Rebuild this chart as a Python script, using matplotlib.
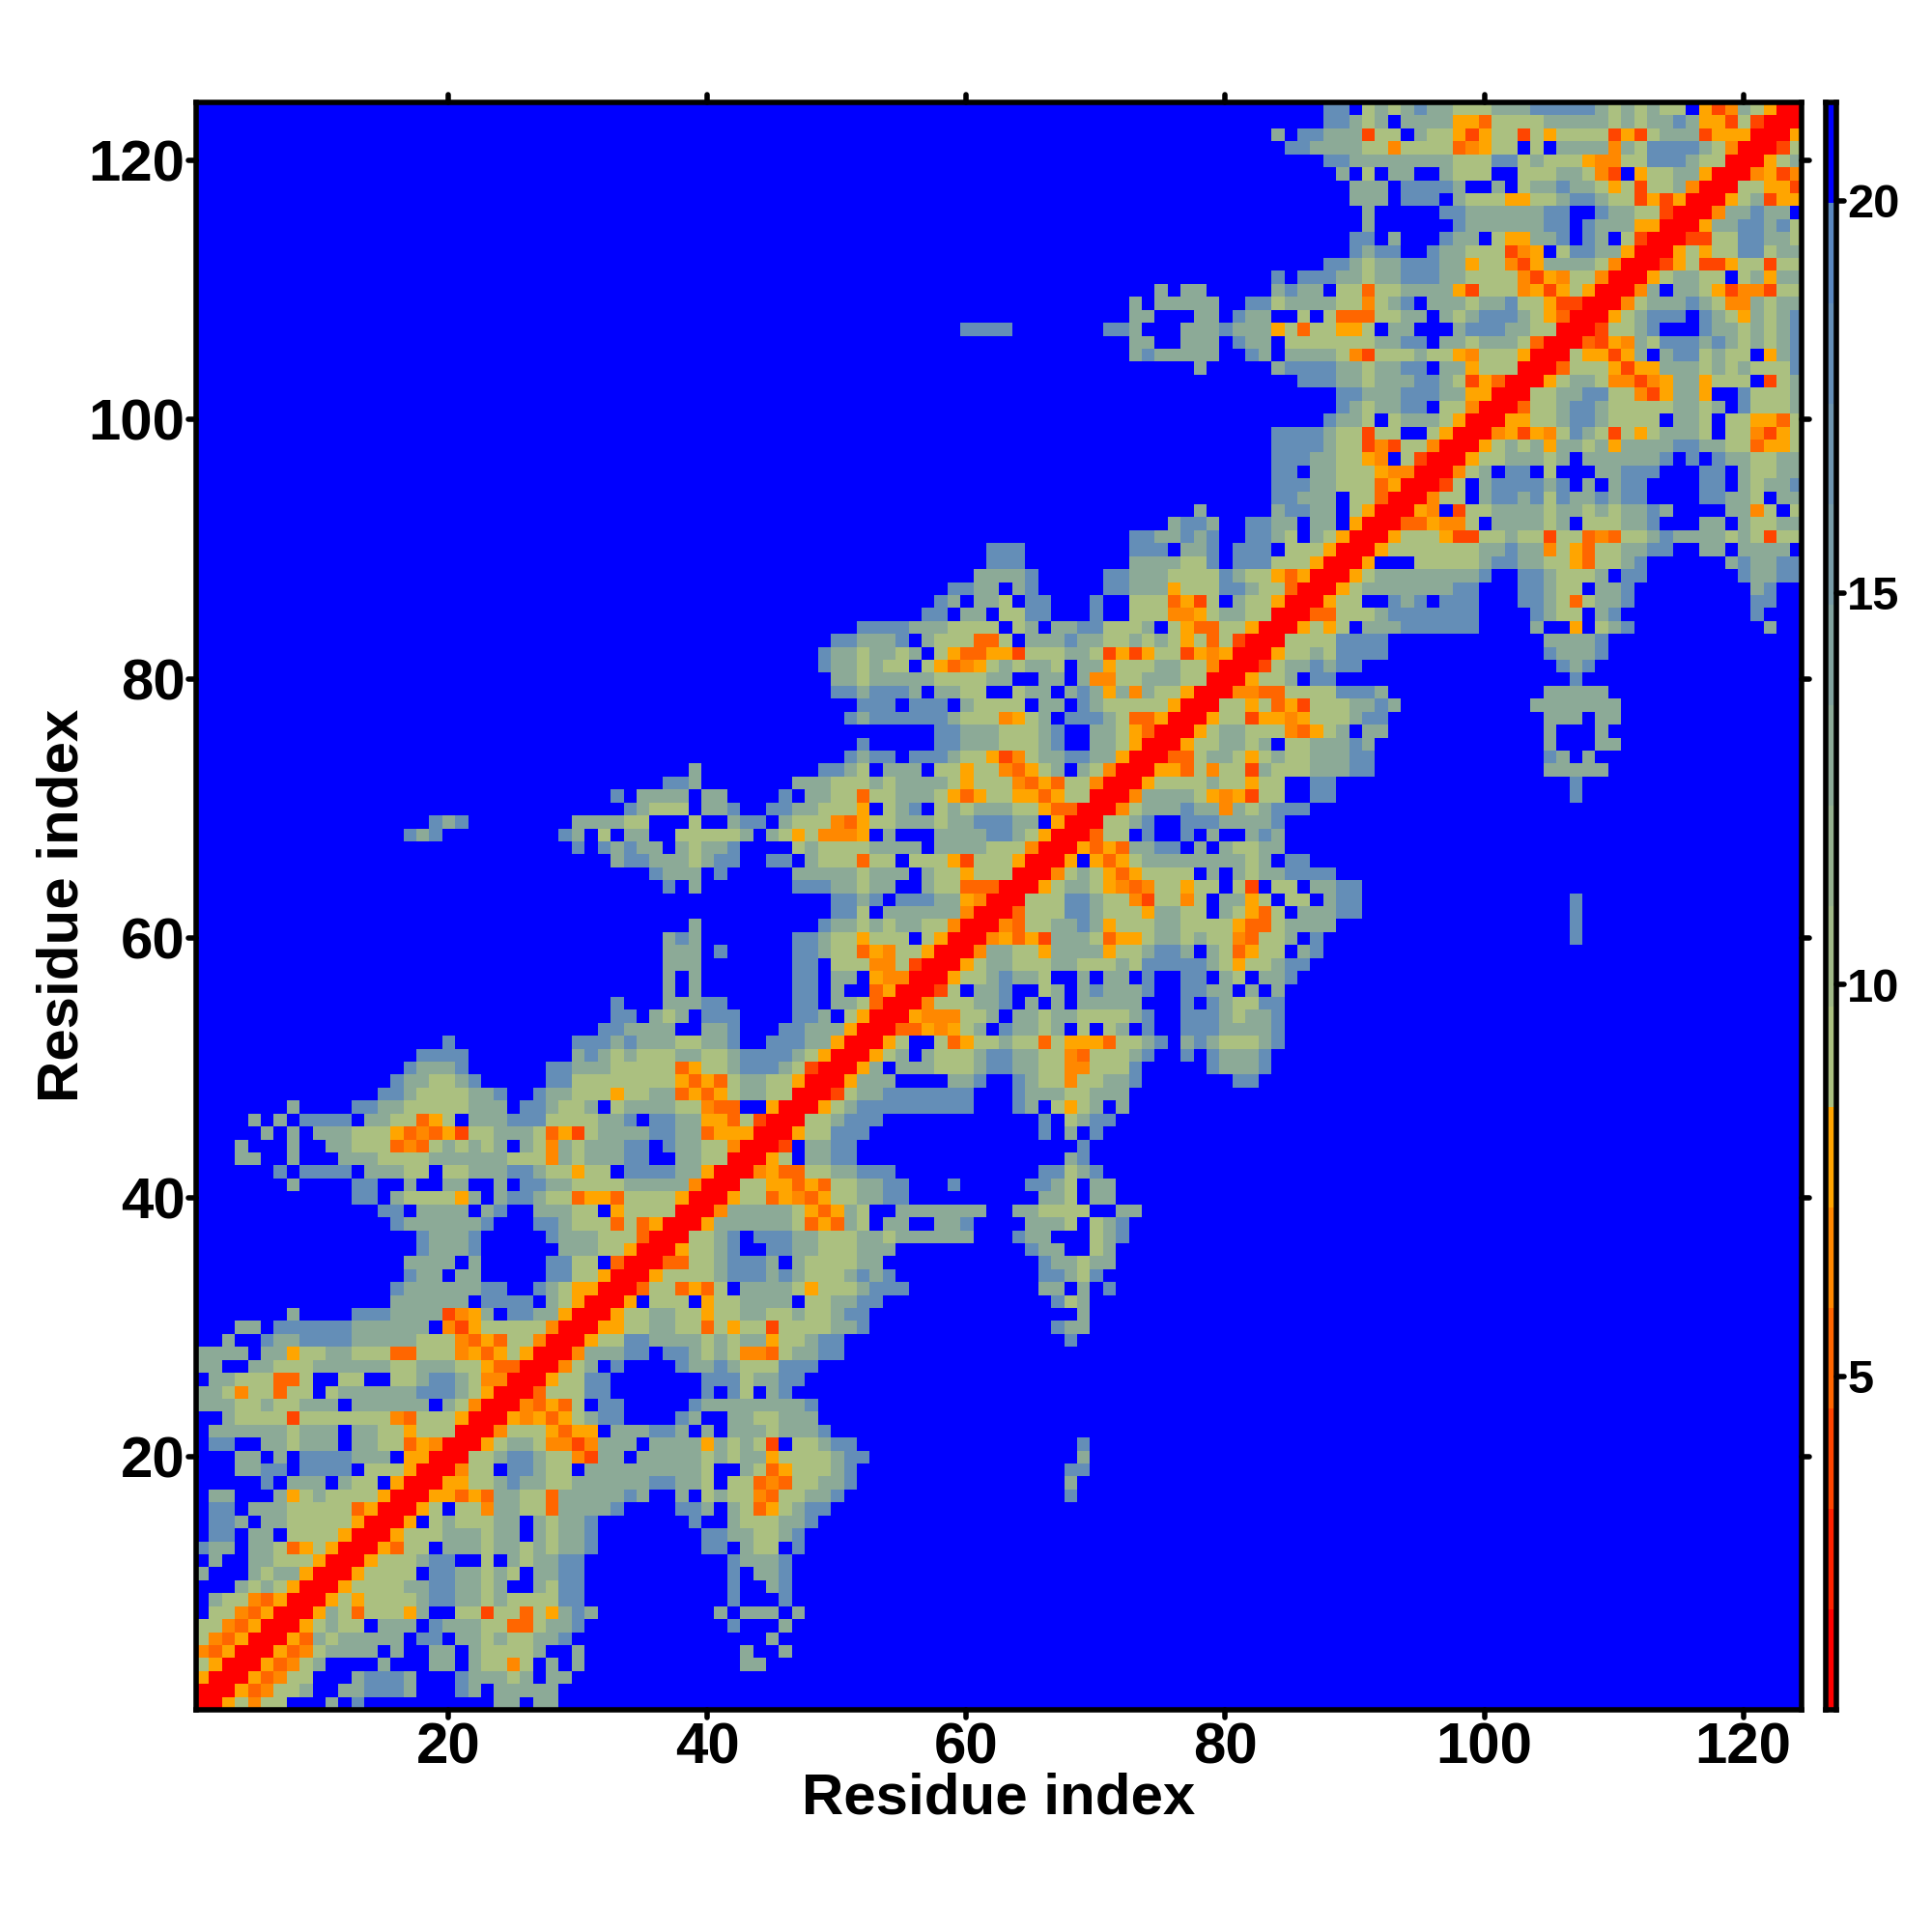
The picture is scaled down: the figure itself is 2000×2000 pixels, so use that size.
import re
import numpy as np
import matplotlib
matplotlib.use('Agg')
import matplotlib.pyplot as plt
from matplotlib.colors import ListedColormap, BoundaryNorm, to_rgb
from matplotlib.markers import MarkerStyle, TICKLEFT, TICKRIGHT, TICKUP, TICKDOWN

plt.rcParams['font.family'] = ['Liberation Sans', 'DejaVu Sans']
plt.rcParams['font.weight'] = 'bold'

# distance map: row y holds residues x = 1..y,
# the matrix is symmetric. "12." means twelve cells of "."
MAP_ROWS = [
    "R", "2R", "y2R", "gy2R", "doy2R", "gdoy2R", "2gdoy2R", ".2gdoy2R",
    ".m2gdoy2R", "3.mgmgy2R", "m3.mg2my2R", ".m2.2m3gy2R", "b2m.2mgoygy2R",
    ".2b.2m.4gy2R", ".2bm.2m5gy2R", ".2b.3m5goy2R", ".2m3.mygm4gy2R",
    "5.b.3m.m2g.y2R", "3.2m2b.4b.3gy2R", "3.2m.m.4b3m.2y2R", ".2b2.2mg3m.2m2goyd2R",
    ".6mg3m.2m2gy3g2R", "2.m4gf7gdo3gy2R", "3m2gm2g3m.6m.mgd2R", "2mgd2go2g.g6m3bmgy2R",
    ".2m3g2og2.2g2.2gm2bmg2d2R", "2m2.2m3g6m2g3m2gy2o2R", "4m.2my2g2m3g2o3gdyoygy2R",
    "2.m2.b2m4b5m3gdoyo2gd2R", "3.2m.6b6m.dfy5gd2R", "7.m4.3b4mfdym.2b2my2R",
    "15.6m.4b.mgy2R", "15.b6m2b2.bmg2y2R", "16.b2m.2m5.2b2gy2R", "16.4m.m5.2b2g.o2R",
    "17.b3mb6.3m2gy2R", "17.b3mb5.b3m3go2R", "15.bm5mb3.2bm3gogoy2R",
    "14.2b.4m.mb2.3m2g.y4g2R", "12.2b.m4gym.m2bm2go2yo4gy2R",
    "7.m4.2b2.m2.2m2.m.2b2m4g5md2R", "6.b.4b.3m2g.2g3m2bm2gy2g.4b2my2R",
    "3.2m2.m3.3m4g3m3m3gdmgm2m2b2.2m2g2R", "3.m3.m2.2m3godogmgmgm.mgdmg3m2b.b2m2gd2R",
    "5.m.m.3m3gyodoyf2g3mgoyfg4m2b2mo3y2R", "4.m.m.4b.2m2goyg.3m3b4g2mb.2b2m2yogf2R",
    "7.m4.2b2m5g3m.2bm2gm.g4m2gd2o2.y2R", "14.2bm4g2mb2.b2m3gy2g2moyoyg2m2g2R",
    "15.b2m2gmb5.2b8gyoyog2m2gy2R", "16.b3mb6.2b3m5goy2gm3bmgf2R",
    "17.4b8.mbmgm3g2m2gm4bmgy2R", "19.b9.3bmb3m2g2mb2.3b2my2R",
    "31.2b4m2.2mb3.2b3my2R", "32.2b.mgm.3b4.2bm.gy2R", "32.b3.3m2b5.2b.2mgo2R",
    "36.m.m7.2b.m2.oy2R", "36.m.m7.2b.2m.y2d2R", "36.3m7.2b.3g2dgf2R",
    "36.3m.b5.2bm2goyd2gy2R", "36.mbm7.2bm2gy3g.gy2R", "38.m9.b2mgmg2m2gd2R",
    "49.2bg.6md2R", "49.2bmb.3b2myd2R", "36.b.m7.3b2mg2m2.m2go2o2R",
    "35.b3m.b5.5mg3m.m2gy3g2R", "32.m2b3mgm2b2.2b.m3go2g.3gyf3gy2R",
    "29.b.bmb2m.mg2mb4.gm4g4m.3mm3gd2R", "16.bmb9.bm.g.2m2.5gm.mgyg3dy.m3.3mm2bmgy2R",
    "18.bmb8.4m2g3.g2.m2b.m3gdoy2g3mg2m3b2m.y2R", "33.bm3g.2mb2.2b2m3gy.gmb.gmg3m2gy2o2R",
    "32.b.4m.2m4.b.2m2go2g3mgyoy2g2yoy2g2R", "36.2bm7.3m3gmg4mgy3gdoyo2gd2R",
    "38.m9.2bmg.3m.2gy2gdoygm.mgd2R", "50.bm2b.3bm2gyfdg2m2b2my2R",
    "51.b5.2b3m3gmb2.2mgy2R", "57.2b3m3gmb2.2mgyo2R", "50.bm6bm3gdygm.3bmg2oy2R",
    "51.3b.3b.m4g.2m.bmg4gy2R", "49.2bm3bm.2m2g2.g2m.mbmymdm2gy2R",
    "49.2mg5m4g2m2.2m.m2d2g3m2g2R", "48.b2mgm2g.gyodygmg2mg.2my3g2m2gd2R",
    "48.b2mg2mgm.gy2o2yf3g2mgfyfy2gfydy2R", "49.2b3mb.m3g2og.3mb2m2gmgmgygogf2R",
    "51.4b3m4g.gm.2m2b3gm.gy2o2gy2R", "56.2b.2m.2g2b3.b2.3g2dyg2m2g2R",
    "57.bm.2mg.2b3.b2.3goyfg.m2gy2R", "58.2b2m.mb5.2b3my3g2bm2go2R",
    "60.4mb5.2b3m4gbm2gyoy2R", "61.3b8.4m2gb.3b3gy2R", "61.3b8.3b.2mb.3b.3gy2R",
    "72.2b2mbmb2.2bmg.mgy2R", "75.m2bm2.2b2m.2m.y2R", "77.m5.m2b2m.gy2R",
    "83.2b3m.2go2R", "83.3b2m3goy2R", "83.2b.2m3gy2d2R", "83.3b2m2gyd.gf2R",
    "83.4bm2gfdf2gd2R", "83.4bm2gf2g2.gy2R", "87.b2mg.g3mgy2R", "88.bmg2m2b.2gd2R",
    "88.2b3m3b2m2y2R", "85.3b2mg3m2bmgfyo2R", "77.m5.m4b2mg2m2b.2my3g2R",
    "72.mb5m2.bm.4mgdf3gm2gyd3gy2R", "72.2m2.3m.b2m.7g2m2b.2mg3mgo2R",
    "59.4b7.2bm3.3mb3mygo2g2yg.2m3.m3b2m2g2R", "72.2m3.2m.b2m2.g.g3o2g2m.mgm3bmgyo2R",
    "72.m.5m2.2bg4m2gdgmb.3mg2mb2gy2f2R", "74.m.2m5.mb2m.2go2g4myf3gdyfygy2R",
    "83.b.3b2mg2m3b2m4gdfyd2gd2R", "87.2bmg2m3b2my2gdfy3mmgd2R",
    "89.bm2b2.b2m3gfdy.g2b2my2R", "89.2b.m3.b2m.g2y2mb.bm.gf2R",
    "90.m6.b6m2b.b3m2y2R", "90.m5.2b6m2b2.b2m2gf2R", "89.3m.3b.m3g2y2gm2bm2gfyfy2R",
    "89.3m.4bm2.m.g2mb2mgygf2gmd2R", "88.m.g.2m2.m3g2.3g2mgdf.y2g2my2R",
    "87.2b2m6m3g2bgm3gy2d2g3bm2g2R", "84.2b4m2gd4gody2g.g.4mdmg4bmgd2R",
    "83.m.2b3mf2g.m2gyfy2gfgy4gfyfg3mf3y2R", "87.2bmgm.4m2yo4g5mgmg2mbm2yfgf2R",
    "87.2b.gmgmb2m3g3m2b3bmgmgm2g.yfdmgy2R",
]
# approximate distance (angstrom) behind each colour class
CLASS_VALUES = {'R': 1.4, 'f': 4.0, 'o': 5.3, 'd': 6.6, 'y': 7.9,
                'g': 9.5, 'm': 12.8, 'b': 18.0, '.': 21.0}
BAR_TICKS = [5, 10, 15, 20]
RESIDUE_TICKS = [20, 40, 60, 80, 100, 120]
AXIS_LABEL = "Residue index"

VMIN, VMAX, N_LEVELS = 0.75, 21.26, 16


def expand(row):
    return "".join(ch * int(n or 1) for n, ch in re.findall(r'(\d*)(\D)', row))


n = len(MAP_ROWS)
dist = np.full((n, n), CLASS_VALUES['.'])
for i, row in enumerate(MAP_ROWS):
    for j, ch in enumerate(expand(row)):
        dist[i, j] = dist[j, i] = CLASS_VALUES[ch]

# 16 discrete colours: reds to orange, then sage to steel blue, then pure blue
hot = ['#ff0000', '#ff2200', '#ff4500', '#ff6600', '#ff8800', '#ffa500']
sage, steel = np.array(to_rgb('#abc080')), np.array(to_rgb('#5a87bf'))
cool = [tuple(sage + (steel - sage) * k / 8) for k in range(9)]
cmap = ListedColormap(hot + cool + ['#0000ff'])
bounds = np.linspace(VMIN, VMAX, N_LEVELS + 1)
norm = BoundaryNorm(bounds, cmap.N)

fig = plt.figure(figsize=(10, 10), dpi=200)
ax = fig.add_axes([202.8 / 2000, 1 - 1769.7 / 2000, 1662.2 / 2000, 1664 / 2000])
ax.imshow(dist, origin='lower', extent=(0.5, n + 0.5, 0.5, n + 0.5), aspect='auto',
          cmap=cmap, norm=norm, interpolation='nearest')
ax.set_xticks(RESIDUE_TICKS)
ax.set_yticks(RESIDUE_TICKS)
ax.tick_params(axis='both', which='major', top=True, right=True, length=3, width=2,
               labelsize=21.6)
ax.tick_params(axis='x', pad=1.5)
ax.tick_params(axis='y', pad=1)
ax.set_xlabel(AXIS_LABEL, fontsize=21.6, fontweight='bold', labelpad=-1)
ax.set_ylabel(AXIS_LABEL, fontsize=21.6, fontweight='bold', labelpad=-0.2)
for s in ax.spines.values():
    s.set_linewidth(2)

cax = fig.add_axes([1890 / 2000, 1 - 1769.7 / 2000, 11 / 2000, 1664 / 2000])
levels = (bounds[:-1] + bounds[1:]) / 2
cax.imshow(levels[:, None], origin='lower', extent=(0, 1, VMIN, VMAX), aspect='auto',
           cmap=cmap, norm=norm, interpolation='nearest')
cax.set_xticks([])
cax.yaxis.tick_right()
cax.set_yticks(BAR_TICKS)
cax.tick_params(axis='y', length=3, width=2, labelsize=17.6, pad=1)
for s in cax.spines.values():
    s.set_linewidth(2)

# the original has small rounded tick ends
for a in (ax, cax):
    for axis, m1, m2 in ((a.xaxis, TICKDOWN, TICKUP), (a.yaxis, TICKLEFT, TICKRIGHT)):
        for t in axis.get_major_ticks():
            t.tick1line.set_marker(MarkerStyle(m1, capstyle='round'))
            t.tick2line.set_marker(MarkerStyle(m2, capstyle='round'))

fig.savefig('out.png', dpi=200, facecolor='white')
